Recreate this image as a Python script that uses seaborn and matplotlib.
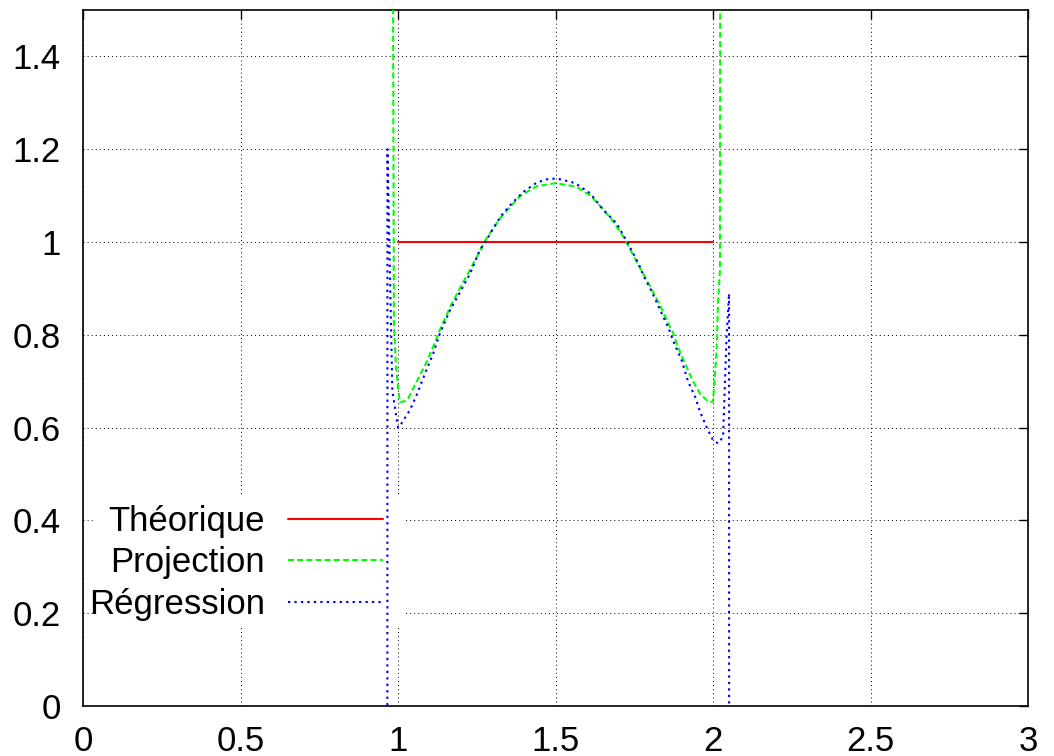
import matplotlib
matplotlib.use("Agg")
import matplotlib.pyplot as plt
from matplotlib.patches import Rectangle
import seaborn as sns
import pandas as pd

# ---- data ----
theo_x = [1.0, 2.0]
theo_y = [1.0, 1.0]

proj_x = [0.9805, 0.987, 0.993, 1.001, 1.006, 1.022, 1.033, 1.06, 1.09, 1.112,
          1.14, 1.17, 1.20, 1.23, 1.26, 1.281, 1.324, 1.387, 1.44, 1.50,
          1.567, 1.613, 1.676, 1.719, 1.74, 1.77, 1.80, 1.83, 1.86, 1.874,
          1.888, 1.91, 1.937, 1.96, 1.985, 2.000, 2.005, 2.011, 2.016, 2.022,
          2.0245]
proj_y = [2.5, 0.825, 0.739, 0.681, 0.655, 0.657, 0.664, 0.700, 0.740, 0.775,
          0.822, 0.866, 0.905, 0.942, 0.980, 1.008, 1.051, 1.099, 1.120, 1.127,
          1.119, 1.099, 1.051, 1.008, 0.980, 0.942, 0.905, 0.866, 0.822, 0.803,
          0.775, 0.740, 0.699, 0.672, 0.656, 0.656, 0.703, 0.761, 0.869, 0.940,
          2.5]

regr_x = [0.9655, 0.9665, 0.982, 1.000, 1.011, 1.038, 1.059, 1.086, 1.112, 1.133,
          1.165, 1.197, 1.229, 1.260, 1.281, 1.302, 1.329, 1.361, 1.398, 1.440,
          1.472, 1.504, 1.562, 1.610, 1.652, 1.694, 1.726, 1.763, 1.784, 1.806,
          1.827, 1.859, 1.879, 1.900, 1.921, 1.943, 1.959, 1.979, 2.000, 2.016,
          2.032, 2.043, 2.051, 2.0515]
regr_y = [-3.0, 1.2, 0.68, 0.600, 0.609, 0.638, 0.670, 0.717, 0.760, 0.803,
          0.853, 0.892, 0.932, 0.983, 1.004, 1.029, 1.058, 1.083, 1.108, 1.128,
          1.135, 1.137, 1.127, 1.105, 1.069, 1.040, 1.002, 0.954, 0.921, 0.893,
          0.861, 0.814, 0.778, 0.746, 0.699, 0.667, 0.634, 0.602, 0.573, 0.566,
          0.580, 0.796, 0.889, -3.0]

labels = ["Théorique", "Projection", "Régression"]
colors = ["#ff0000", "#00ff00", "#0000ff"]

x_ticks = [0, 0.5, 1, 1.5, 2, 2.5, 3]
x_tick_labels = ["0", "0.5", "1", "1.5", "2", "2.5", "3"]
y_ticks = [0, 0.2, 0.4, 0.6, 0.8, 1.0, 1.2, 1.4]
y_tick_labels = ["0", "0.2", "0.4", "0.6", "0.8", "1", "1.2", "1.4"]

# ---- style ----
sns.set_style("white")
plt.rcParams["font.family"] = ["Liberation Sans", "DejaVu Sans"]
plt.rcParams["text.color"] = "black"

FS = 25

fig = plt.figure(figsize=(10.54, 7.56), dpi=100)
ax = fig.add_axes([83 / 1054, 50 / 756, 945 / 1054, 696 / 756])

df_t = pd.DataFrame({"x": theo_x, "y": theo_y})
df_p = pd.DataFrame({"x": proj_x, "y": proj_y})
df_r = pd.DataFrame({"x": regr_x, "y": regr_y})

sns.lineplot(data=df_t, x="x", y="y", ax=ax, color=colors[0], lw=1.5,
             estimator=None, sort=False, label=labels[0], zorder=3)
sns.lineplot(data=df_p, x="x", y="y", ax=ax, color=colors[1], lw=1.5,
             linestyle=(0, (2.9, 1.5)), estimator=None, sort=False,
             label=labels[1], zorder=3)
sns.lineplot(data=df_r, x="x", y="y", ax=ax, color=colors[2], lw=1.5,
             linestyle=(0, (1.1, 2.0)), estimator=None, sort=False,
             label=labels[2], zorder=3)

ax.set_xlim(0, 3)
ax.set_ylim(0, 1.5)
ax.set_xticks(x_ticks)
ax.set_xticklabels(x_tick_labels)
ax.set_yticks(y_ticks)
ax.set_yticklabels(y_tick_labels)
ax.set_xlabel("")
ax.set_ylabel("")

ax.set_axisbelow(True)
ax.grid(True, color="black", linewidth=0.7, linestyle=(0, (1, 3.2)))
ax.tick_params(axis="both", which="both", direction="in", length=6.5,
               width=1.0, color="black", top=True, right=True,
               labelsize=FS, labelcolor="black")
ax.tick_params(axis="x", pad=13.5)
ax.tick_params(axis="y", pad=16)
for sp in ax.spines.values():
    sp.set_color("black")
    sp.set_linewidth(1.2)
    sp.set_visible(True)

# opaque key background (gnuplot style) hiding the grid
ax.add_patch(Rectangle((0.011, 0.1164), 0.3386 - 0.011, 0.3003 - 0.1164,
                       transform=ax.transAxes, facecolor="white",
                       edgecolor="none", zorder=1))

leg = ax.legend(loc="center right", bbox_to_anchor=(0.3175, 0.2055),
                frameon=False, markerfirst=False, fontsize=FS,
                handlelength=2.75, handletextpad=0.66, labelspacing=0.245,
                borderpad=0.0, borderaxespad=0.0)
for t in leg.get_texts():
    t.set_color("black")
leg.set_zorder(1.5)

fig.savefig("out.png", dpi=100)
